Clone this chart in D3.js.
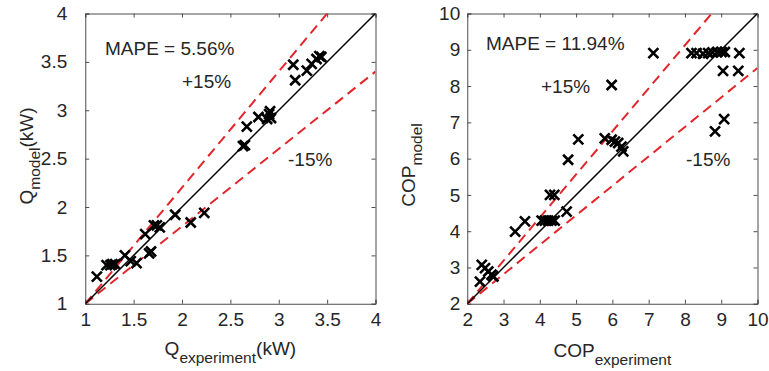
<!DOCTYPE html>
<html><head><meta charset="utf-8">
<script src="https://cdn.jsdelivr.net/npm/d3@7/dist/d3.min.js"></script>
<style>
html,body{margin:0;padding:0;background:#fff;}
svg{display:block;font-family:"Liberation Sans",Arial,Helvetica,sans-serif;}
</style></head><body>
<script>
// ---- data ----
const qExp = [1.12,1.22,1.26,1.28,1.31,1.41,1.47,1.53,1.62,1.66,1.68,1.71,1.74,1.77,1.93,2.09,2.23,2.63,2.65,2.67,2.79,2.88,2.90,2.91,2.92,3.15,3.17,3.29,3.34,3.39,3.42,3.44];
const qModel = [1.28,1.40,1.40,1.41,1.41,1.50,1.44,1.42,1.72,1.52,1.54,1.81,1.81,1.79,1.92,1.84,1.94,2.63,2.64,2.83,2.93,2.91,2.96,2.99,2.92,3.47,3.31,3.41,3.48,3.53,3.56,3.55];
const copExp = [2.40,2.49,2.58,2.67,2.35,2.72,3.32,3.59,4.05,4.14,4.23,4.32,4.41,4.74,4.28,4.40,4.78,5.06,5.98,5.79,5.98,6.07,6.16,6.25,6.30,7.13,8.18,8.32,8.50,8.64,8.76,8.89,9.01,9.10,9.50,9.05,9.47,8.83,9.08];
const copModel = [3.07,2.98,2.89,2.80,2.61,2.75,3.99,4.27,4.29,4.29,4.29,4.29,4.29,4.54,5.00,5.00,5.97,6.53,8.03,6.56,6.52,6.47,6.43,6.33,6.20,8.91,8.91,8.91,8.89,8.91,8.93,8.94,8.94,8.94,8.91,8.42,8.42,6.75,7.09];
const qTicks = [1,1.5,2,2.5,3,3.5,4];
const copTicks = [2,3,4,5,6,7,8,9,10];
const qMape = "MAPE = 5.56%";
const copMape = "MAPE = 11.94%";
const bandLabels = ["+15%","-15%"];
const bandFactors = [1.15,0.85];

const W=769,H=371;
const svg=d3.select("body").append("svg").attr("width",W).attr("height",H);
const txt="#262626", axc="#4d4d4d", red="#e3262b";

function panel(o){
  const x=d3.scaleLinear().domain(o.dom).range([o.x0,o.x1]);
  const y=d3.scaleLinear().domain(o.dom).range([o.y1,o.y0]);
  const g=svg.append("g");
  const cid="clip"+o.id;
  svg.append("clipPath").attr("id",cid).append("rect")
    .attr("x",o.x0).attr("y",o.y0).attr("width",o.x1-o.x0).attr("height",o.y1-o.y0);
  const fmt=d=>String(d);
  g.append("g").attr("transform",`translate(0,${o.y1})`)
    .call(d3.axisBottom(x).tickValues(o.ticks).tickSize(-4).tickPadding(o.xpad).tickFormat(fmt));
  g.append("g").attr("transform",`translate(0,${o.y0})`)
    .call(d3.axisTop(x).tickValues(o.ticks).tickSize(-4).tickFormat(""));
  g.append("g").attr("transform",`translate(${o.x0},0)`)
    .call(d3.axisLeft(y).tickValues(o.ticks).tickSize(-4).tickPadding(o.ypad).tickFormat(fmt));
  g.append("g").attr("transform",`translate(${o.x1},0)`)
    .call(d3.axisRight(y).tickValues(o.ticks).tickSize(-4).tickFormat(""));
  g.selectAll(".domain").attr("stroke",axc).attr("stroke-width",1);
  g.selectAll(".tick line").attr("stroke",axc);
  g.selectAll(".tick text").attr("fill",txt).style("font-size","19px").style("font-family","Liberation Sans, Arial, sans-serif");
  // reference lines from (min,min) to (max, f*max)
  const lg=svg.append("g").attr("clip-path",`url(#${cid})`);
  const d0=o.dom[0],d1=o.dom[1];
  bandFactors.forEach(f=>{
    lg.append("line").attr("x1",x(d0)).attr("y1",y(d0)).attr("x2",x(d1)).attr("y2",y(d1*f))
      .attr("stroke",red).attr("stroke-width",2).attr("stroke-dasharray","10,6");
  });
  lg.append("line").attr("x1",x(d0)).attr("y1",y(d0)).attr("x2",x(d1)).attr("y2",y(d1))
    .attr("stroke","#000").attr("stroke-width",1.5);
  // markers
  const s=5;
  lg.selectAll("path.m").data(o.xs.map((v,i)=>[v,o.ys[i]])).join("path").attr("class","m")
    .attr("d",d=>`M${x(d[0])-s},${y(d[1])-s}L${x(d[0])+s},${y(d[1])+s}M${x(d[0])-s},${y(d[1])+s}L${x(d[0])+s},${y(d[1])-s}`)
    .attr("stroke","#000").attr("stroke-width",2.6).attr("fill","none");
  // annotations
  const t=svg.append("g").attr("fill",txt).style("font-size","19px");
  t.append("text").attr("x",o.mape[0]).attr("y",o.mape[1]).text(o.mapeText);
  t.append("text").attr("x",o.plus[0]).attr("y",o.plus[1]).text(bandLabels[0]);
  t.append("text").attr("x",o.minus[0]).attr("y",o.minus[1]).text(bandLabels[1]);
  // x label
  const xl=svg.append("text").attr("x",(o.x0+o.x1)/2).attr("y",o.xlabY).attr("text-anchor","middle").attr("fill",txt).style("font-size","19px");
  xl.append("tspan").text(o.xlab[0]);
  xl.append("tspan").attr("dy",8).style("font-size","15.5px").text(o.xlab[1]);
  if(o.xlab[2]) xl.append("tspan").attr("dy",-8).text(o.xlab[2]);
  // y label
  const yl=svg.append("text").attr("transform",`translate(${o.ylabX},${o.ylabC}) rotate(-90)`).attr("text-anchor","middle").attr("fill",txt).style("font-size","19px");
  yl.append("tspan").text(o.ylab[0]);
  yl.append("tspan").attr("dy",7).style("font-size","15.5px").text(o.ylab[1]);
  if(o.ylab[2]) yl.append("tspan").attr("dy",-7).text(o.ylab[2]);
}

panel({id:"L",dom:[1,4],x0:85.25,x1:375.5,y0:13.5,y1:303.75,ticks:qTicks,xs:qExp,ys:qModel,xpad:9,ypad:18,
  mape:[105,55],mapeText:qMape,plus:[182,88],minus:[288,166],
  xlab:["Q","experiment","(kW)"],xlabY:355,ylab:["Q","model","(kW)"],ylabX:33,ylabC:156});
panel({id:"R",dom:[2,10],x0:467.25,x1:757.5,y0:13.5,y1:303.75,ticks:copTicks,xs:copExp,ys:copModel,xpad:9,ypad:7,
  mape:[486,50],mapeText:copMape,plus:[541,93],minus:[686,166],
  xlab:["COP","experiment"],xlabY:356.5,ylab:["COP","model"],ylabX:415,ylabC:165});
</script>
</body></html>
